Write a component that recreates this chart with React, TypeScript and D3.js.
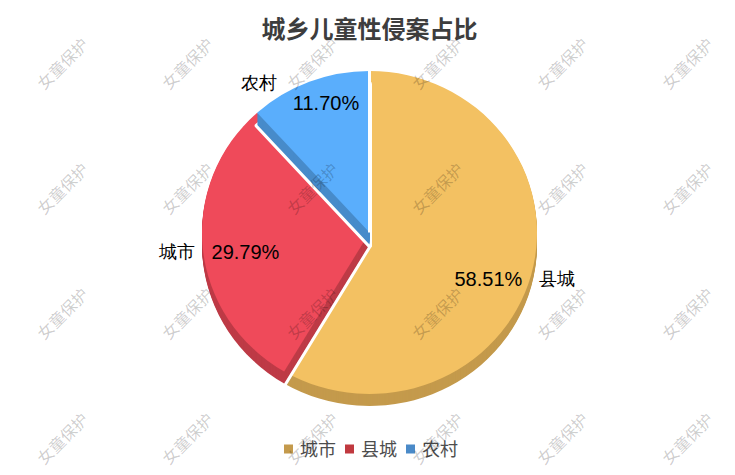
import { useEffect, useRef } from "react"
import * as d3 from "d3"

const title = "城乡儿童性侵案占比"
const categories = ["县城", "城市", "农村"]
const values = [58.51, 29.79, 11.7]
const faceColors = ["#f3c162", "#ef4a5a", "#5aaefc"]
const sideColors = ["#c49a4c", "#be3b47", "#478bca"]
const legendLabels = ["城市", "县城", "农村"]
const legendColors = ["#c49a4c", "#c0393f", "#4a8ac8"]
const watermark = "女童保护"

const App = () => {
	const svgRef = useRef(null)

	useEffect(() => {
		const width = 735
		const height = 475
		const svg = d3.select(svgRef.current).attr("width", width).attr("height", height)
		svg.selectAll("*").remove()

		svg.append("rect").attr("width", width).attr("height", height).attr("fill", "#fff")

		// pie geometry (tilted, so the face is an ellipse and it has some depth)
		const cx = 369.5
		const cy = 232.5
		const rx = 167.5
		const ry = 161.5
		const depth = 13
		const k = ry / rx

		const data = categories.map((name, i) => ({ name, value: values[i], i }))
		const pie = d3.pie<any>().sort(null).value((d: any) => d.value)
		const arcs = pie(data)
		const arc = d3.arc<any>().innerRadius(0).outerRadius(rx)

		const pieG = svg.append("g")
		arcs.forEach((a: any) => {
			const i = a.data.i
			// side, built from stacked copies; the deepest one carries the white border
			for (let d = depth; d >= 1; d--) {
				pieG.append("path")
					.attr("d", arc(a) as string)
					.attr("transform", `translate(${cx},${cy + d}) scale(1,${k})`)
					.attr("fill", sideColors[i])
					.attr("stroke", d === depth ? "#fff" : "none")
					.attr("stroke-width", d === depth ? 5 : 0)
					.attr("stroke-linejoin", "round")
			}
			pieG.append("path")
				.attr("d", arc(a) as string)
				.attr("transform", `translate(${cx},${cy}) scale(1,${k})`)
				.attr("fill", faceColors[i])
		})
		// border between the first and last slice on the face
		const a0 = arcs[0].startAngle
		pieG.append("line")
			.attr("x1", cx).attr("y1", cy)
			.attr("x2", cx + Math.sin(a0) * rx).attr("y2", cy - Math.cos(a0) * ry)
			.attr("stroke", "#fff").attr("stroke-width", 3)

		// labels
		const labelR = rx + 8.5
		const labelG = svg.append("g")
		arcs.forEach((a: any) => {
			const mid = (a.startAngle + a.endAngle) / 2
			const s = Math.sin(mid)
			const c = -Math.cos(mid)
			const side = s >= 0 ? 1 : -1
			const nameY = cy + 3 + (ry + 2) * c
			const dy = nameY - cy
			const nameX = cx + side * Math.sqrt(labelR * labelR - dy * dy)
			labelG.append("text")
				.attr("x", nameX).attr("y", nameY)
				.attr("text-anchor", side > 0 ? "start" : "end")
				.attr("dominant-baseline", "central")
				.attr("font-family", "serif")
				.attr("font-size", 18)
				.attr("fill", "#000")
				.text(a.data.name)

			let px, py, anchor
			if (Math.abs(s) > 0.5) {
				px = nameX - side * 17
				py = nameY
				anchor = side > 0 ? "end" : "start"
			} else {
				px = cx + s * 121
				py = nameY + 20
				anchor = "middle"
			}
			labelG.append("text")
				.attr("x", px).attr("y", py)
				.attr("text-anchor", anchor)
				.attr("dominant-baseline", "central")
				.attr("font-family", "'Liberation Sans', Arial, sans-serif")
				.attr("font-size", 20)
				.attr("fill", "#000")
				.text(a.data.value.toFixed(2) + "%")
		})

		// title
		svg.append("text")
			.attr("x", 369.5).attr("y", 27)
			.attr("text-anchor", "middle")
			.attr("dominant-baseline", "central")
			.attr("font-family", "'Noto Sans CJK SC', sans-serif")
			.attr("font-weight", "bold")
			.attr("font-size", 24)
			.attr("fill", "#3d3d3d")
			.text(title)

		// legend
		const sq = 9
		const textW = 36
		const gapIn = 7
		const gapOut = 9
		const itemW = sq + gapIn + textW
		const totalW = legendLabels.length * itemW + (legendLabels.length - 1) * gapOut
		const lx0 = 371 - totalW / 2
		const ly = 448
		const legend = svg.append("g")
		legendLabels.forEach((lab, i) => {
			const x = lx0 + i * (itemW + gapOut)
			legend.append("rect")
				.attr("x", x).attr("y", ly - sq / 2 + 1)
				.attr("width", sq).attr("height", sq)
				.attr("fill", legendColors[i])
			legend.append("text")
				.attr("x", x + sq + gapIn).attr("y", ly)
				.attr("dominant-baseline", "central")
				.attr("font-family", "'Noto Sans CJK SC', sans-serif")
				.attr("font-size", 18)
				.attr("fill", "#4d4d4d")
				.text(lab)
		})

		// watermark grid
		const wm = svg.append("g")
		d3.range(6).forEach(col => {
			d3.range(4).forEach(row => {
				const x = 62 + col * 125
				const y = 63 + row * 125
				wm.append("text")
					.attr("transform", `translate(${x},${y}) rotate(-45)`)
					.attr("text-anchor", "middle")
					.attr("dominant-baseline", "central")
					.attr("font-family", "'Noto Sans CJK SC', sans-serif")
					.attr("font-size", 16)
					.attr("fill", "rgba(0,0,0,0.2)")
					.text(watermark)
			})
		})
	}, [])

	return <svg ref={svgRef} style={{ position: "absolute", left: 0, top: 0 }}></svg>
}

export default App
